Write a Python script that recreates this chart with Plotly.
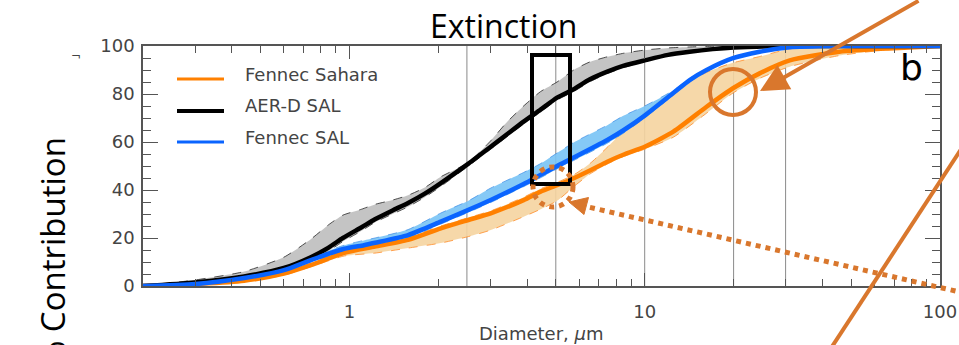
import plotly.graph_objects as go

# ---------------- data ----------------
d_black = [0.2, 0.3, 0.44, 0.6, 0.74, 0.85, 0.95, 1.1, 1.22, 1.4, 1.58, 1.8, 2.04, 2.53, 3.01, 3.4, 3.89, 4.44,
           5.05, 5.75, 6.5, 7.47, 8.5, 10, 12, 14.2, 17, 20, 25, 30, 50, 100]
aerd_sal = [0, 1.5, 4, 7.5, 12, 16, 20, 24.5, 27.8, 31.5, 34.6, 38.5, 42.9, 51, 58, 63, 68.5, 73.5,
            78.5, 82, 86, 89.3, 91.8, 94, 96.3, 97.6, 98.7, 99.4, 99.8, 100, 100, 100]
aerd_hi = [0, 2.5, 6, 12, 19.5, 25.5, 29.5, 32, 34, 35.8, 37.8, 41, 45.5, 51.5, 60.5, 68, 75, 81,
           85, 90, 93.3, 95.5, 97, 98.3, 99.2, 99.6, 99.9, 100, 100, 100, 100, 100]
aerd_lo = [0, 1, 3, 6.5, 10.5, 14.5, 18.5, 23, 26.5, 30, 33, 37, 41.5, 50, 57, 62, 67.5, 72.5,
           77.5, 81, 85, 88.5, 91, 93.5, 96, 97.3, 98.5, 99.3, 99.8, 100, 100, 100]

d_blue = [0.2, 0.3, 0.44, 0.6, 0.74, 0.96, 1.12, 1.22, 1.58, 2.04, 2.53, 3.01, 3.89, 4.44, 5.05,
          5.75, 7.47, 8.5, 10, 12.5, 14.2, 16.2, 19.9, 24.5, 31, 45, 100]
fennec_sal = [0, 0.8, 3.3, 6.6, 10.8, 15.5, 17, 18, 21.2, 26.8, 31.7, 35.8, 42.5, 46.3, 50,
              53.5, 60.8, 65, 71, 80.4, 85.8, 90, 94.9, 97.6, 99.5, 100, 100]
fsal_hi = [0, 1, 4, 7.5, 12, 17, 19, 20, 23.5, 30.4, 35.5, 40.8, 47.3, 51, 55.4,
           59.8, 67, 71, 75, 81.5, 86.5, 90.5, 95.2, 97.8, 99.6, 100, 100]
fsal_lo = [0, 0.5, 2.8, 6, 10, 14.5, 16, 17, 20.2, 25.8, 30.7, 34.8, 41.4, 45.1, 48.8,
           52.3, 59.5, 63.8, 70, 79.5, 85, 89.4, 94.4, 97.2, 99.3, 100, 100]

d_orange = [0.2, 0.3, 0.44, 0.6, 0.74, 0.96, 1.22, 1.58, 2.04, 2.53, 3.01, 3.89, 4.44, 5.05,
            5.75, 6.55, 7.47, 8.5, 10, 12.5, 16.2, 19.9, 24.5, 31, 45.6, 67, 100]
fennec_sahara = [0, 0.8, 2.2, 5.2, 8.7, 13.8, 16.4, 19.2, 24, 27.5, 30.3, 35.8, 39.3, 42,
                 44.9, 48.2, 51.8, 54.8, 58, 64.3, 74.7, 82.4, 88.6, 94, 97.6, 99, 100]
fsah_hi = [0, 1, 2.8, 6, 9.5, 15, 17.5, 20.3, 25, 28.5, 31.3, 37, 40.5, 43.2,
           46.3, 51.2, 57.8, 64.8, 72.5, 81.2, 89, 93, 95.6, 98.8, 99.8, 100, 100]
fsah_lo = [0, 0.5, 1.8, 4.5, 8, 12.5, 13.7, 15.8, 17.9, 20.6, 23.3, 28.9, 32, 35.5,
           41.4, 46.8, 50.8, 54, 57, 62, 72, 80.4, 86.5, 91.4, 96, 98.5, 100]

ref_diams = [2.5, 5, 10, 20, 30]
x_tickvals = [1, 10, 100]
x_ticktext = ["1", "10", "100"]
legend_names = ["Fennec Sahara", "AER-D SAL", "Fennec SAL"]

# ---------------- style ----------------
W, H = 959, 345
L, R, T, B = 143, 19, 46, 59
PW, PH = W - L - R, H - T - B
ORANGE = "#FF8000"
BLUE = "#0A64FF"
BLACK = "#000000"
DECO = "#D9772D"
TXT = "#444444"
AX = "#555555"
FONT = "DejaVu Sans"
SLIDE_FONT = "Open Sans"
SMOOTH = 0.6


def px(x):
    return (x - L) / PW


def py(y):
    return (T + PH - y) / PH


fig = go.Figure()

# reference vertical lines
for d in ref_diams:
    fig.add_trace(go.Scatter(x=[d, d], y=[0, 100], mode="lines",
                             line=dict(color="#8a8a8a", width=1), showlegend=False, hoverinfo="skip"))


def band(xs, hi, lo, fill, edge):
    fig.add_trace(go.Scatter(x=xs + xs[::-1], y=hi + lo[::-1], fill="toself", fillcolor=fill,
                             mode="lines", line=dict(width=0, shape="spline", smoothing=SMOOTH),
                             showlegend=False, hoverinfo="skip"))
    for e in (hi, lo):
        fig.add_trace(go.Scatter(x=xs, y=e, mode="lines",
                                 line=dict(color=edge, width=1, dash="dash", shape="spline",
                                           smoothing=SMOOTH),
                                 showlegend=False, hoverinfo="skip"))


band(d_orange, fsah_hi, fsah_lo, "rgba(245,212,160,0.9)", "rgba(255,140,40,0.8)")
band(d_blue, fsal_hi, fsal_lo, "rgba(120,195,245,0.9)", "rgba(60,140,230,0.7)")
band(d_black, aerd_hi, aerd_lo, "rgba(190,190,190,0.9)", "rgba(40,40,40,0.8)")

for xs, ys, name, col in ((d_orange, fennec_sahara, legend_names[0], ORANGE),
                          (d_black, aerd_sal, legend_names[1], BLACK),
                          (d_blue, fennec_sal, legend_names[2], BLUE)):
    fig.add_trace(go.Scatter(x=xs, y=ys, mode="lines", name=name,
                             line=dict(color=col, width=4.5, shape="spline", smoothing=SMOOTH),
                             showlegend=False))

shapes = []
annotations = []

# legend (manual, inside plot)
leg_rows = [(79, 74, ORANGE, 3), (111, 105.5, BLACK, 4), (142, 137, BLUE, 3)]
for (ly, ty, col, lw), name in zip(leg_rows, legend_names):
    shapes.append(dict(type="line", xref="paper", yref="paper", x0=px(177), x1=px(224),
                       y0=py(ly), y1=py(ly), line=dict(color=col, width=lw)))
    annotations.append(dict(xref="paper", yref="paper", x=px(243), y=py(ty), text=name,
                            showarrow=False, xanchor="left", yanchor="middle",
                            font=dict(family=FONT, size=18, color=TXT)))

# slide decorations
shapes.append(dict(type="rect", xref="paper", yref="paper", x0=px(532), x1=px(570),
                   y0=py(55), y1=py(184), line=dict(color=BLACK, width=4)))
shapes.append(dict(type="circle", xref="paper", yref="paper", x0=px(710), x1=px(756),
                   y0=py(69), y1=py(115), line=dict(color=DECO, width=4)))
shapes.append(dict(type="circle", xref="paper", yref="paper", x0=px(533), x1=px(573),
                   y0=py(167), y1=py(207), line=dict(color=DECO, width=5, dash="dot")))
shapes.append(dict(type="line", xref="paper", yref="paper", x0=px(975), y0=py(128),
                   x1=px(820), y1=py(365), line=dict(color=DECO, width=4)))
shapes.append(dict(type="line", xref="paper", yref="paper", x0=px(975), y0=py(295.5),
                   x1=px(586), y1=py(206.5), line=dict(color=DECO, width=5, dash="dot")))
tri = [(569, 202), (584, 214.5), (588.5, 197.5)]
path = "M {} {} L {} {} L {} {} Z".format(*[v for p in tri for v in (px(p[0]), py(p[1]))])
shapes.append(dict(type="path", xref="paper", yref="paper", path=path,
                   fillcolor=DECO, line=dict(color=DECO, width=1)))

annotations.append(dict(xref="paper", yref="paper", x=px(760), y=py(91), text="",
                        showarrow=True, axref="pixel", ayref="pixel", ax=160, ay=-103,
                        arrowhead=2, arrowsize=1.4, arrowwidth=4, arrowcolor=DECO, standoff=0))

# texts
annotations.append(dict(xref="paper", yref="paper", x=px(503), y=py(25), text="Extinction",
                        showarrow=False, xanchor="center", yanchor="middle",
                        font=dict(family=SLIDE_FONT, size=32, color="#000000")))
annotations.append(dict(xref="paper", yref="paper", x=px(52), y=py(253), text="% Contribution",
                        showarrow=False, xanchor="center", yanchor="middle", textangle=-90,
                        font=dict(family=SLIDE_FONT, size=33, color="#000000")))
annotations.append(dict(xref="paper", yref="paper", x=px(541), y=py(333), text="Diameter, <i>μ</i>m",
                        showarrow=False, xanchor="center", yanchor="middle",
                        font=dict(family=FONT, size=18, color=TXT)))
annotations.append(dict(xref="paper", yref="paper", x=px(911), y=py(67), text="b",
                        showarrow=False, xanchor="center", yanchor="middle",
                        font=dict(family=FONT, size=36, color="#000000")))
annotations.append(dict(xref="paper", yref="paper", x=px(76), y=py(56), text="¬",
                        showarrow=False, xanchor="center", yanchor="middle",
                        font=dict(family=FONT, size=12, color=TXT)))

fig.update_layout(
    width=W, height=H, margin=dict(l=L, r=R, t=T, b=B, pad=0, autoexpand=False),
    paper_bgcolor="white", plot_bgcolor="white",
    shapes=shapes, annotations=annotations, showlegend=False,
    xaxis=dict(type="log", range=[-0.69897, 2], tickvals=x_tickvals, ticktext=x_ticktext,
               ticks="inside", ticklen=13, tickwidth=1.2, tickcolor=AX, automargin=False,
               minor=dict(ticks="inside", ticklen=7, dtick="D1", tickcolor=AX, tickwidth=1.2),
               showgrid=False, zeroline=False, showline=True, linecolor=AX, linewidth=1.5,
               mirror="ticks", ticklabelstandoff=9,
               tickfont=dict(family=FONT, size=18, color=TXT)),
    yaxis=dict(range=[0, 100], dtick=20, ticks="inside", ticklen=15, tickwidth=1.2, tickcolor=AX,
               minor=dict(ticks="inside", ticklen=8, dtick=5, tickcolor=AX, tickwidth=1.2),
               showgrid=False, zeroline=False, showline=True, linecolor=AX, linewidth=1.5,
               mirror="ticks", ticklabelstandoff=3, automargin=False,
               tickfont=dict(family=FONT, size=18, color=TXT)),
)

fig.write_html("out.html")
